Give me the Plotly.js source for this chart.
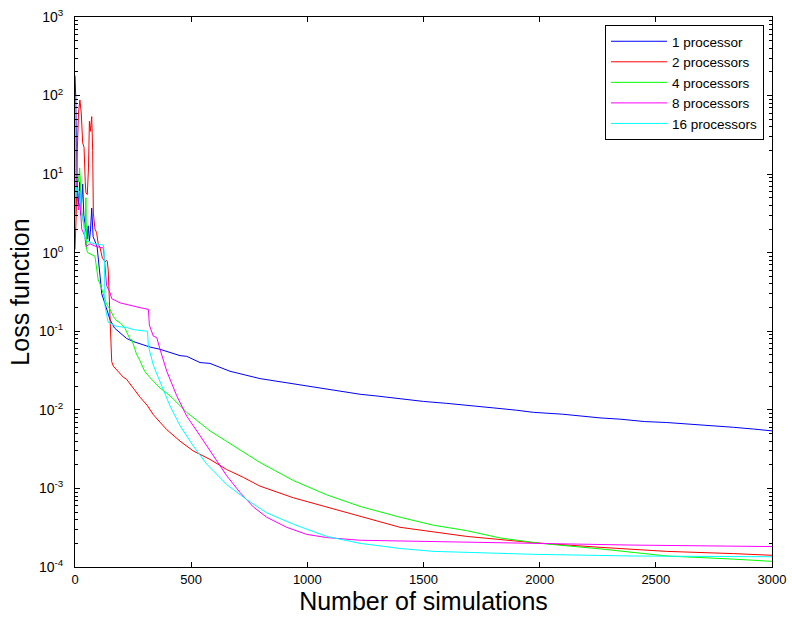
<!DOCTYPE html>
<html>
<head>
<meta charset="utf-8">
<script src="https://cdn.plot.ly/plotly-3.0.1.min.js"></script>
<style>html,body{margin:0;padding:0;background:#fff;}#chart{width:792px;height:617px;}</style>
</head>
<body>
<div id="chart"></div>
<script>
// ---- data ----
const seriesNames = ["1 processor", "2 processors", "4 processors", "8 processors", "16 processors"];
const seriesColors = ["#0000ff", "#ff0000", "#00ff00", "#ff00ff", "#00ffff"];

const x1 = [0,3,6,10,15,20,25,33,38,45,52,57,62,67,72,78,85,95,108,115,130,143,151,170,194,222,251,280,323,366,395,452,481,538,581,667,796,940,1000,1083,1150,1227,1300,1399,1500,1600,1686,1800,1900,1973,2100,2200,2260,2350,2450,2547,2650,2750,2834,2920,3000];
const y1 = [180,100,20,6,4,8,3,7.5,3,2,1.5,2.2,1.4,2,3.7,1.6,1.4,1.2,0.5,0.3,0.22,0.17,0.14,0.11,0.096,0.081,0.074,0.069,0.063,0.059,0.055,0.049,0.048,0.040,0.039,0.031,0.025,0.0214,0.0205,0.0186,0.0172,0.0158,0.0150,0.0138,0.0128,0.0121,0.0115,0.0106,0.0099,0.0093,0.0088,0.0082,0.0079,0.0076,0.0071,0.0069,0.0066,0.0062,0.0060,0.0057,0.0054];

const x2 = [0,5,10,15,21,27,33,39,44,47,53,58,62,66,72,76,79,86,93,100,108,118,125,129,134,139,143,147,151,155,158,165,190,208,222,250,280,310,337,365,395,452,509,581,653,725,796,940,1083,1227,1399,1686,1973,2260,2547,2834,3000];
const y2 = [1.1,3,20,60,88,60,25,22,8,5.8,5.5,12,47,35,54,20,3.2,2,1.8,1.3,1.15,0.85,0.8,0.76,0.8,0.78,0.6,0.3,0.1,0.05,0.041,0.036,0.030,0.026,0.0245,0.019,0.0145,0.0115,0.0087,0.0070,0.0056,0.0040,0.0030,0.00234,0.00174,0.00138,0.00107,0.00076,0.00058,0.00044,0.00032,0.000245,0.000204,0.000178,0.000158,0.000148,0.000141];

const x4 = [0,3,6,10,15,20,25,29,35,40,44,47,50,55,70,86,100,108,122,136,151,165,180,194,215,237,244,265,280,300,323,366,409,481,581,681,796,940,1083,1227,1399,1543,1686,1830,2002,2260,2547,2834,3000];
const y4 = [80,30,10,11,8,12,5,3.5,2.5,2.2,2,5,1.1,1.0,0.95,0.9,0.45,0.40,0.3,0.22,0.19,0.155,0.135,0.129,0.11,0.079,0.079,0.051,0.042,0.031,0.0257,0.019,0.0151,0.0093,0.0054,0.00347,0.00214,0.00126,0.00083,0.00059,0.00043,0.00034,0.00029,0.000234,0.0002,0.00017,0.000138,0.000126,0.000118];

const x8 = [0,3,6,10,15,22,29,36,43,47,65,90,115,122,129,136,151,158,194,244,280,316,320,337,352,366,395,438,481,538,595,653,710,768,825,911,997,1083,1227,1399,1700,1973,2404,3000];
const y8 = [3,30,8,5,3.5,4.3,2,1.8,1.6,1.2,1.3,1.2,1.17,1.15,0.7,0.38,0.31,0.26,0.23,0.21,0.20,0.19,0.12,0.087,0.083,0.059,0.031,0.0151,0.0083,0.0047,0.0026,0.00145,0.00089,0.00058,0.00043,0.00032,0.00026,0.000237,0.000219,0.000214,0.000205,0.0002,0.00019,0.000182];

const x16 = [0,2,4,7,12,21,29,36,43,47,65,86,108,122,126,129,143,180,222,251,312,316,337,366,409,452,509,567,653,739,825,940,1083,1227,1399,1543,1973,2404,3000];
const y16 = [100,10,5,7,6,6,3,2.6,1.5,1.45,1.35,1.3,1.26,1.25,1.0,0.21,0.13,0.115,0.112,0.105,0.1,0.065,0.037,0.0224,0.0112,0.0063,0.00347,0.00204,0.00112,0.00072,0.00049,0.00035,0.000245,0.0002,0.000172,0.000158,0.000145,0.000138,0.000135];

const xTickVals = [0,500,1000,1500,2000,2500,3000];
const yTickExps = [-4,-3,-2,-1,0,1,2,3];

// ---- build traces ----
const xs = [x1, x2, x4, x8, x16];
const ys = [y1, y2, y4, y8, y16];
const traces = xs.map((xv, i) => ({
  x: xv, y: ys[i], type: 'scatter', mode: 'lines', name: seriesNames[i],
  line: {color: seriesColors[i], width: 1}
}));

const yTickVals = yTickExps.map(e => Math.pow(10, e));
const yTickText = yTickExps.map(e => '10<sup>' + e + '</sup>');
const minorVals = [];
for (let e = -4; e < 3; e++) for (let m = 2; m <= 9; m++) minorVals.push(m * Math.pow(10, e));

const font = 'Liberation Sans, Arial, Helvetica, sans-serif';
const layout = {
  width: 792, height: 617,
  margin: {l: 75, r: 20, t: 17, b: 50},
  paper_bgcolor: '#fff', plot_bgcolor: '#fff',
  font: {family: font, size: 13, color: '#000'},
  showlegend: true,
  legend: {x: 0.9885, y: 0.9855, xanchor: 'right', yanchor: 'top',
    bgcolor: '#fff', bordercolor: '#000', borderwidth: 1, itemwidth: 56,
    font: {family: font, size: 13.5, color: '#000'}, tracegroupgap: 0},
  xaxis: {
    range: [0, 3000], tickmode: 'array', tickvals: xTickVals,
    ticks: 'inside', ticklen: 5, tickcolor: '#000', tickwidth: 1,
    showline: true, linecolor: '#000', linewidth: 1, mirror: 'allticks',
    showgrid: false, zeroline: false,
    tickfont: {family: font, size: 13, color: '#000'},
    title: {text: 'Number of simulations', font: {family: font, size: 25, color: '#000'}, standoff: 2}
  },
  yaxis: {
    type: 'log', range: [-4, 3], tickmode: 'array', tickvals: yTickVals, ticktext: yTickText,
    ticks: 'inside', ticklen: 5, tickcolor: '#000', tickwidth: 1,
    minor: {tickmode: 'array', tickvals: minorVals, ticks: 'inside', ticklen: 3, tickcolor: '#000', showgrid: false},
    showline: true, linecolor: '#000', linewidth: 1, mirror: 'allticks',
    showgrid: false, zeroline: false, ticklabelstandoff: 8,
    tickfont: {family: font, size: 14, color: '#000'},
    title: {text: 'Loss function', font: {family: font, size: 25, color: '#000'}, standoff: 2}
  }
};

Plotly.newPlot('chart', traces, layout, {displayModeBar: false, staticPlot: true});
</script>
</body>
</html>
